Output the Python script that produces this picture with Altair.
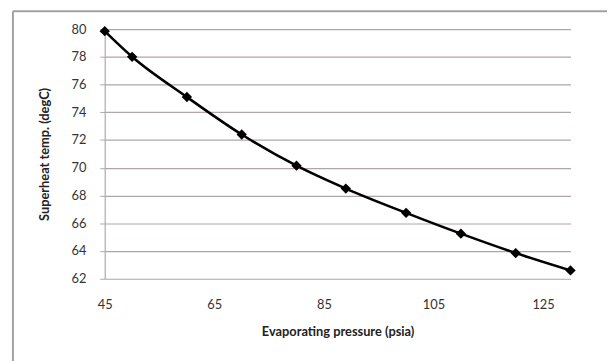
import altair as alt
import pandas as pd

pressure = [45, 50, 60, 70, 80, 89, 100, 110, 120, 130]
superheat = [79.85, 78.0, 75.1, 72.4, 70.15, 68.5, 66.75, 65.25, 63.85, 62.6]
x_ticks = [45, 65, 85, 105, 125]
y_ticks = [62, 64, 66, 68, 70, 72, 74, 76, 78, 80]

df = pd.DataFrame({"p": pressure, "t": superheat})
one = pd.DataFrame({"a": [0]})

FONT = "Lato"
GRID = "#b3a5a5"
FRAME = "#a89e9e"

W, H = 472, 253

x_enc = alt.X(
    "p:Q",
    scale=alt.Scale(domain=[45, 130], nice=False, zero=False),
    axis=alt.Axis(
        values=x_ticks, tickCount=30, format="d", grid=False, domain=False, ticks=False,
        labelPadding=20, labelFontSize=13, labelFont=FONT, labelColor="#333333",
        labelOverlap=False, labelBound=False, labelFlush=False,
        title="Evaporating pressure (psia)", titleFont=FONT, titleFontSize=13,
        titleFontWeight="bold", titleColor="#222222",
        titleX=W / 2, titleY=54, titleBaseline="middle", titleAlign="center",
    ),
)
y_enc = alt.Y(
    "t:Q",
    scale=alt.Scale(domain=[62, 80], nice=False, zero=False),
    axis=alt.Axis(
        values=y_ticks, tickCount=30, format="d", grid=True, gridColor=GRID, gridWidth=1.2,
        domain=True, domainColor="#b0a8a8", domainWidth=1.2,
        ticks=True, tickSize=5, tickColor=GRID,
        labelPadding=14, labelFontSize=13, labelFont=FONT, labelColor="#333333",
        labelOverlap=False, labelBound=False, labelFlush=False,
        title="Superheat temp. (degC)", titleFont=FONT, titleFontSize=13,
        titleFontWeight="bold", titleColor="#222222",
        titleX=-61, titleY=H / 2, titleAngle=-90, titleBaseline="middle",
        titleAlign="center",
    ),
)

line = alt.Chart(df).mark_line(
    color="black", strokeWidth=2.6, interpolate="monotone"
).encode(x=x_enc, y=y_enc)

pts = alt.Chart(df).mark_point(
    shape="diamond", filled=True, size=110, color="black", opacity=1
).encode(x="p:Q", y="t:Q")

frame_top = alt.Chart(one).mark_rule(color=FRAME, strokeWidth=2).encode(
    x=alt.value(-93), x2=alt.value(520), y=alt.value(-18)
)
frame_left = alt.Chart(one).mark_rule(color=FRAME, strokeWidth=2).encode(
    x=alt.value(-93), y=alt.value(-18), y2=alt.value(340)
)

chart = (
    alt.layer(frame_top, frame_left, line, pts)
    .properties(
        width=W,
        height=H,
        autosize=alt.AutoSizeParams(type="none"),
        padding={"left": 98, "top": 19, "right": 37, "bottom": 81},
        background="white",
    )
    .configure_view(stroke=None)
)

chart.save("out.html", embed_options={"renderer": "svg", "actions": False})
